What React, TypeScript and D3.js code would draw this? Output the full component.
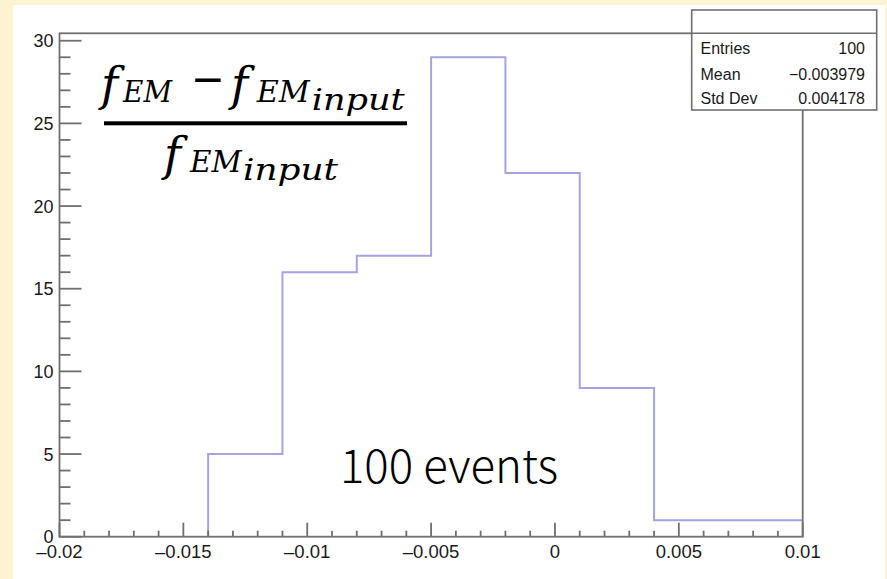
import React from "react";
import * as d3 from "d3";

// Histogram contents: ten bins of width 0.003 on [-0.02, 0.01]
const binEdges = [-0.02, -0.017, -0.014, -0.011, -0.008, -0.005, -0.002, 0.001, 0.004, 0.007, 0.01];
const binCounts = [0, 0, 5, 16, 17, 29, 22, 9, 1, 1];

const xTickValues = [-0.02, -0.015, -0.01, -0.005, 0, 0.005, 0.01];
const xTickLabels = ["\u20130.02", "\u20130.015", "\u20130.01", "\u20130.005", "0", "0.005", "0.01"];
const yTickValues = [0, 5, 10, 15, 20, 25, 30];
const yTickLabels = ["0", "5", "10", "15", "20", "25", "30"];

const statsLabels = ["Entries", "Mean", "Std Dev"];
const statsValues = ["100", "\u22120.003979", "0.004178"];

const annotation = "100 events";

const W = 887;
const H = 579;
const frame = { left: 59.5, right: 802.7, top: 33.3, bottom: 536.7 };
const yMax = 30.45;

const axisColor = "#6f6f6f";
const histColor = "#a4a4e2";
const sans = "'Liberation Sans', Arial, Helvetica, sans-serif";
const mathFont = "'DejaVu Serif', 'Liberation Serif', serif";

export default function App() {
  const x = d3.scaleLinear().domain([-0.02, 0.01]).range([frame.left, frame.right]);
  const y = d3.scaleLinear().domain([0, yMax]).range([frame.bottom, frame.top]);

  // step outline begins at the first filled bin
  const first = binCounts.findIndex((c) => c > 0);
  const pts: [number, number][] = [[binEdges[first], 0]];
  for (let i = first; i < binCounts.length; i++) pts.push([binEdges[i], binCounts[i]]);
  pts.push([binEdges[binEdges.length - 1], binCounts[binCounts.length - 1]]);
  const stepPath = d3
    .line<[number, number]>()
    .x((d) => x(d[0]))
    .y((d) => y(d[1]))
    .curve(d3.curveStepAfter)(pts);

  const xMinor = d3.range(-0.02, 0.01 + 1e-9, 0.001).map((v) => +v.toFixed(4));
  const yMinor = d3.range(0, 30.01, 1);

  const statsBox = { x0: 691.7, x1: 876.7, y0: 10, y1: 110, div: 33.3 };
  const statsBaselines = [54, 79.5, 103.5];

  return (
    <svg width={W} height={H} style={{ position: "absolute", left: 0, top: 0 }}>
      <rect x={0} y={0} width={W} height={H} fill="#fdf2d2" />
      <rect x={13} y={5} width={872} height={H - 5} fill="#ffffff" />

      {/* histogram outline */}
      <path d={stepPath ?? ""} fill="none" stroke={histColor} strokeWidth={2} />

      {/* frame */}
      <rect
        x={frame.left}
        y={frame.top}
        width={frame.right - frame.left}
        height={frame.bottom - frame.top}
        fill="none"
        stroke={axisColor}
        strokeWidth={1.8}
      />

      {/* x axis ticks */}
      {xMinor.map((v, i) => {
        const major = xTickValues.some((t) => Math.abs(t - v) < 1e-7);
        return (
          <line
            key={"xm" + i}
            x1={x(v)}
            x2={x(v)}
            y1={frame.bottom}
            y2={frame.bottom - (major ? 14 : 6)}
            stroke={axisColor}
            strokeWidth={1.8}
          />
        );
      })}
      {xTickValues.map((v, i) => (
        <text
          key={"xl" + i}
          x={x(v)}
          y={558}
          textAnchor="middle"
          fontFamily={sans}
          fontSize={18.5}
          fill="#1a1a1a"
        >
          {xTickLabels[i]}
        </text>
      ))}

      {/* y axis ticks */}
      {yMinor.map((v, i) => {
        const major = v % 5 === 0;
        return (
          <line
            key={"ym" + i}
            x1={frame.left}
            x2={frame.left + (major ? 22 : 11)}
            y1={y(v)}
            y2={y(v)}
            stroke={axisColor}
            strokeWidth={1.8}
          />
        );
      })}
      {yTickValues.map((v, i) => (
        <text
          key={"yl" + i}
          x={frame.left - 6}
          y={y(v) + 6.5}
          textAnchor="end"
          fontFamily={sans}
          fontSize={18}
          fill="#1a1a1a"
        >
          {yTickLabels[i]}
        </text>
      ))}

      {/* statistics box */}
      <rect
        x={statsBox.x0}
        y={statsBox.y0}
        width={statsBox.x1 - statsBox.x0}
        height={statsBox.y1 - statsBox.y0}
        fill="#ffffff"
        stroke={axisColor}
        strokeWidth={1.6}
      />
      <line x1={statsBox.x0} x2={statsBox.x1} y1={statsBox.div} y2={statsBox.div} stroke={axisColor} strokeWidth={1.6} />
      {statsLabels.map((lab, i) => (
        <g key={"st" + i}>
          <text x={700.5} y={statsBaselines[i]} fontFamily={sans} fontSize={16} fill="#1a1a1a">
            {lab}
          </text>
          <text x={865} y={statsBaselines[i]} textAnchor="end" fontFamily={sans} fontSize={16} fill="#1a1a1a">
            {statsValues[i]}
          </text>
        </g>
      ))}

      {/* relative difference formula */}
      <g fontFamily={mathFont} fontStyle="italic" fill="#000">
        <text x={101} y={100} fontSize={46}>f</text>
        <text x={123} y={101.7} fontSize={29} textLength={49} lengthAdjust="spacingAndGlyphs">EM</text>
        <text x={191} y={93.5} fontSize={44} fontStyle="normal" textLength={34} lengthAdjust="spacingAndGlyphs">{"\u2212"}</text>
        <text x={231} y={100} fontSize={46}>f</text>
        <text x={256.7} y={101.7} fontSize={29} textLength={53} lengthAdjust="spacingAndGlyphs">EM</text>
        <text x={311.7} y={110} fontSize={29} textLength={93} lengthAdjust="spacingAndGlyphs">input</text>
        <rect x={104} y={121.3} width={303} height={4} fill="#000" />
        <text x={164} y={170} fontSize={46}>f</text>
        <text x={190} y={171.7} fontSize={29} textLength={51.7} lengthAdjust="spacingAndGlyphs">EM</text>
        <text x={243} y={180} fontSize={29} textLength={95} lengthAdjust="spacingAndGlyphs">input</text>
      </g>

      <text
        x={340}
        y={483.3}
        fontFamily="'Noto Sans CJK SC', 'Noto Sans', sans-serif"
        fontWeight={300}
        fontSize={46}
        textLength={218}
        lengthAdjust="spacingAndGlyphs"
        fill="#000"
      >
        {annotation}
      </text>
    </svg>
  );
}
